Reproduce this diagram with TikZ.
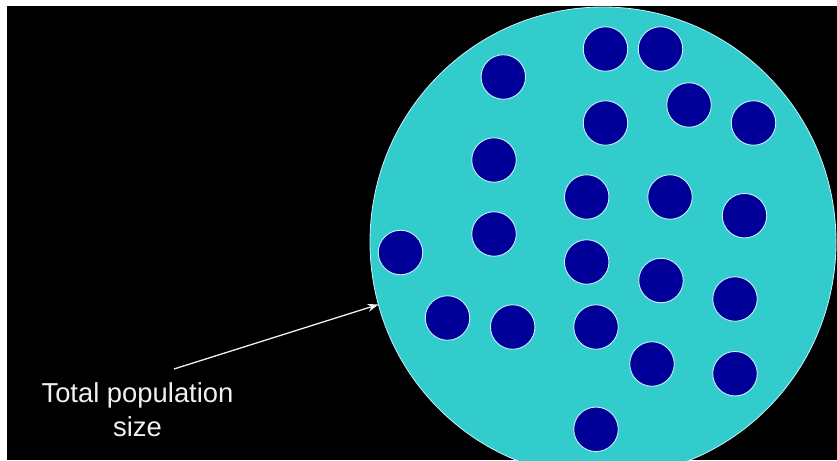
\documentclass[tikz,border=0pt]{standalone}
\usepackage{fontspec}
\setmainfont{Liberation Sans}
\usetikzlibrary{shapes.geometric,arrows.meta}
\definecolor{popcyan}{RGB}{51,204,204}
\definecolor{dotblue}{RGB}{0,0,153}
\definecolor{rimlight}{RGB}{200,240,255}
\definecolor{labelgray}{RGB}{240,240,240}
\tikzset{
  population/.style={ellipse, fill=popcyan, draw=rimlight, line width=0.8pt,
    minimum width=466pt, minimum height=470pt, inner sep=0pt},
  member/.style={circle, fill=dotblue, draw=rimlight, line width=0.9pt,
    minimum size=44.5pt, inner sep=0pt},
  labeltext/.style={text=labelgray, font=\fontsize{27.4}{34}\selectfont, anchor=base, inner sep=0pt},
  pointer/.style={draw=labelgray, line width=1.3pt, -{Stealth[length=11pt,width=8pt]}}
}
\begin{document}
\begin{tikzpicture}[x=1pt,y=-1pt]
\useasboundingbox (0,0) rectangle (837,460);
\fill[white] (0,0) rectangle (837,460);
\clip (7,6) rectangle (837,460);
\fill[black] (7,6) rectangle (837,460);
\node[population] (pop) at (603,242) {};
\node[member] (m1) at (503.3,77) {};
\node[member] (m2) at (605.5,49) {};
\node[member] (m3) at (660.5,49) {};
\node[member] (m4) at (689,105) {};
\node[member] (m5) at (605.5,123) {};
\node[member] (m6) at (753.5,123) {};
\node[member] (m7) at (494,160) {};
\node[member] (m8) at (586.7,197) {};
\node[member] (m9) at (670,197) {};
\node[member] (m10) at (744.5,215.7) {};
\node[member] (m11) at (494,234) {};
\node[member] (m12) at (400.5,252.5) {};
\node[member] (m13) at (586.7,262) {};
\node[member] (m14) at (661,280.5) {};
\node[member] (m15) at (735,299) {};
\node[member] (m16) at (447.5,318) {};
\node[member] (m17) at (512.7,327) {};
\node[member] (m18) at (596,327) {};
\node[member] (m19) at (652,364) {};
\node[member] (m20) at (735,373.7) {};
\node[member] (m21) at (596,429.3) {};
\node[labeltext] (lab1) at (137.5,402) {Total population};
\node[labeltext] (lab2) at (137.5,436) {size};
\coordinate (tail) at (174,369);
\coordinate (tip) at (378.5,304.5);
\draw[pointer] (tail) -- (tip);
\end{tikzpicture}
\end{document}
